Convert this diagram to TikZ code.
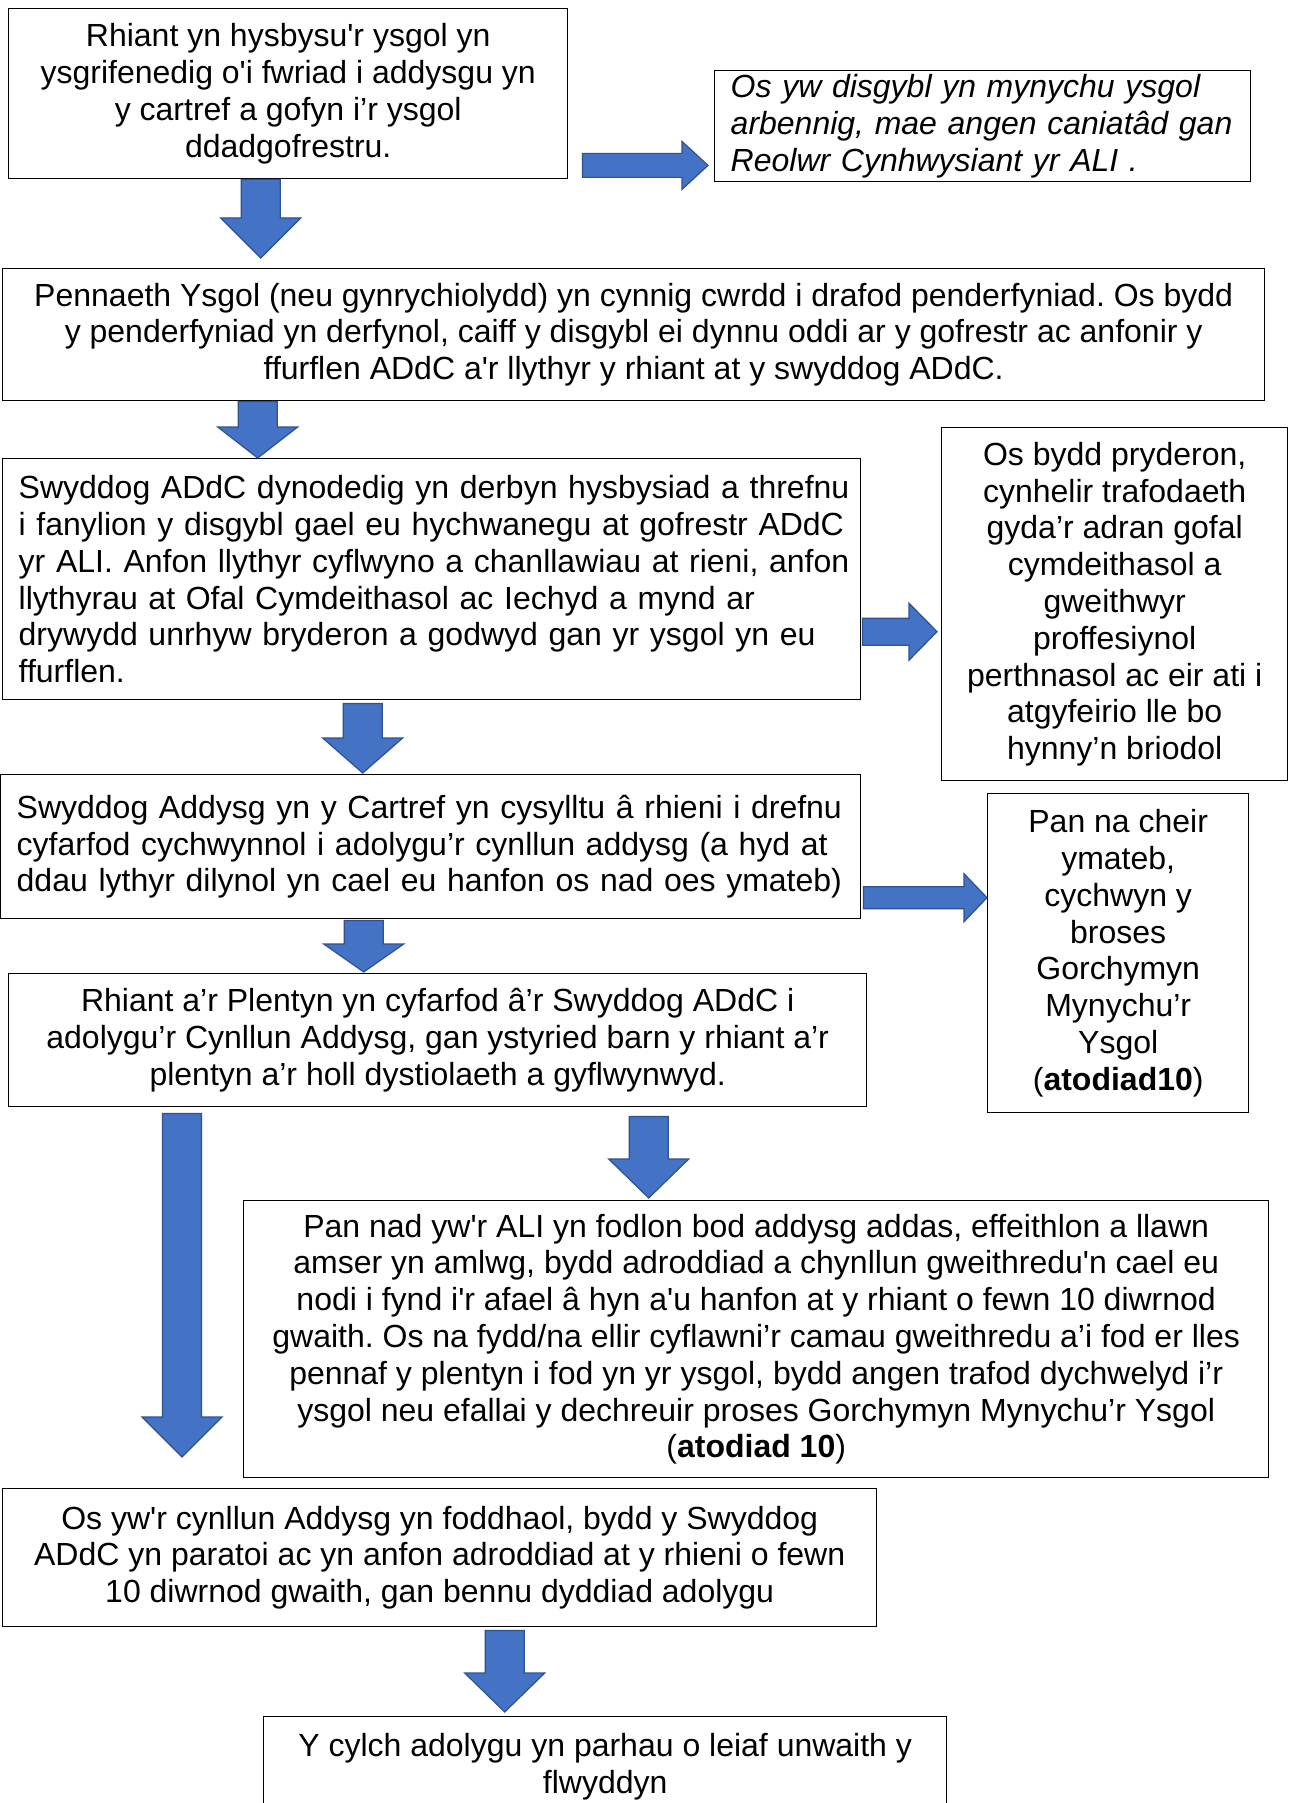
\documentclass[tikz,border=0pt]{standalone}
\usepackage{fontspec}
\setmainfont{Liberation Sans}
\usepackage{tikz}
\usetikzlibrary{calc}
\definecolor{arrfill}{HTML}{4472C4}
\definecolor{arrline}{HTML}{2F528F}
\newcommand{\sq}{\textquotesingle}
\frenchspacing

\begin{document}
\begin{tikzpicture}[x=1pt, y=-1pt,
        box/.style={draw, line width=1.4pt, anchor=north west, inner xsep=16pt, inner ysep=0pt,
            align=center, font=\fontsize{32}{36.8}\selectfont},
        darrow/.style={draw=arrline, fill=arrfill, line width=1.2pt, to path={
            let \p1=(\tikztostart), \p2=(\tikztotarget) in
            (\x1-19.5pt,\y1) -- (\x1+19.5pt,\y1) -- (\x1+19.5pt,\y2+#1pt) -- (\x1+40pt,\y2+#1pt)
            -- (\x1,\y2) -- (\x1-40pt,\y2+#1pt) -- (\x1-19.5pt,\y2+#1pt) -- cycle}},
        rarrow/.style n args={3}{draw=arrline, fill=arrfill, line width=1.2pt, to path={
            let \p1=(\tikztostart), \p2=(\tikztotarget) in
            (\x1,\y1+#1pt) -- (\x2-#3pt,\y1+#1pt) -- (\x2-#3pt,\y1+#2pt) -- (\x2,\y1)
            -- (\x2-#3pt,\y1-#2pt) -- (\x2-#3pt,\y1-#1pt) -- (\x1,\y1-#1pt) -- cycle}}]
        \useasboundingbox[fill=white] (0,0) rectangle (1291,1803);

        % boxes
        \node[box, minimum width=559, minimum height=170] (b1) at (8,8)
            {Rhiant yn hysbysu\sq r ysgol yn\\ysgrifenedig o\sq i fwriad i addysgu yn\\y cartref a gofyn i’r ysgol\\ddadgofrestru.};
        \node[box, align=left, text width=504, minimum height=111,
            font=\fontsize{32}{36.8}\selectfont\itshape] (b2) at (714,70)
            {\mbox{Os yw disgybl yn mynychu ysgol}\\\mbox{arbennig, mae angen caniatâd gan}\\\mbox{Reolwr Cynhwysiant yr ALI .}};
        \node[box, minimum width=1262, minimum height=132] (b3) at (2,268)
            {Pennaeth Ysgol (neu gynrychiolydd) yn cynnig cwrdd i drafod penderfyniad. Os bydd\\y penderfyniad yn derfynol, caiff y disgybl ei dynnu oddi ar y gofrestr ac anfonir y\\ffurflen ADdC a\sq r llythyr y rhiant at y swyddog ADdC.};
        \node[box, align=left, text width=826, minimum height=241] (b4) at (2,458)
            {\mbox{Swyddog ADdC dynodedig yn derbyn hysbysiad a threfnu}\\\mbox{i fanylion y disgybl gael eu hychwanegu at gofrestr ADdC}\\\mbox{yr ALI. Anfon llythyr cyflwyno a chanllawiau at rieni, anfon}\\\mbox{llythyrau at Ofal Cymdeithasol ac Iechyd a mynd ar}\\\mbox{drywydd unrhyw bryderon a godwyd gan yr ysgol yn eu}\\\mbox{ffurflen.}};
        \node[box, minimum width=346, minimum height=353] (b5) at (941,427)
            {Os bydd pryderon,\\cynhelir trafodaeth\\gyda’r adran gofal\\cymdeithasol a\\gweithwyr\\proffesiynol\\perthnasol ac eir ati i\\atgyfeirio lle bo\\hynny’n briodol};
        \node[box, align=left, text width=828, minimum height=144] (b6) at (0,774)
            {\mbox{Swyddog Addysg yn y Cartref yn cysylltu â rhieni i drefnu}\\\mbox{cyfarfod cychwynnol i adolygu’r cynllun addysg (a hyd at}\\\mbox{ddau lythyr dilynol yn cael eu hanfon os nad oes ymateb)}};
        \node[box, minimum width=261, minimum height=319] (b7) at (987,793)
            {Pan na cheir\\ymateb,\\cychwyn y\\broses\\Gorchymyn\\Mynychu’r\\Ysgol\\(\textbf{atodiad10})};
        \node[box, minimum width=858, minimum height=133] (b8) at (8,973)
            {Rhiant a’r Plentyn yn cyfarfod â’r Swyddog ADdC i\\adolygu’r Cynllun Addysg, gan ystyried barn y rhiant a’r\\plentyn a’r holl dystiolaeth a gyflwynwyd.};
        \node[box, minimum width=1025, minimum height=277] (b9) at (243,1200)
            {Pan nad yw\sq r ALI yn fodlon bod addysg addas, effeithlon a llawn\\amser yn amlwg, bydd adroddiad a chynllun gweithredu\sq n cael eu\\nodi i fynd i\sq r afael â hyn a\sq u hanfon at y rhiant o fewn 10 diwrnod\\gwaith. Os na fydd/na ellir cyflawni’r camau gweithredu a’i fod er lles\\pennaf y plentyn i fod yn yr ysgol, bydd angen trafod dychwelyd i’r\\ysgol neu efallai y dechreuir proses Gorchymyn Mynychu’r Ysgol\\(\textbf{atodiad 10})};
        \node[box, minimum width=874, minimum height=138] (b10) at (2,1488)
            {Os yw\sq r cynllun Addysg yn foddhaol, bydd y Swyddog\\ADdC yn paratoi ac yn anfon adroddiad at y rhieni o fewn\\10 diwrnod gwaith, gan bennu dyddiad adolygu};
        \node[box, minimum width=683, minimum height=100] (b11) at (263,1716)
            {Y cylch adolygu yn parhau o leiaf unwaith y\\flwyddyn};

        % block arrows
        \draw[darrow=40] ([xshift=-27.5pt]b1.south) to ([yshift=10pt]b3.north);
        \draw[rarrow={12}{24}{26}] ([shift={(14pt,14pt)}]b1.south east) to ([xshift=-6pt]b2.west);
        \draw[darrow=31] ([xshift=-376pt]b3.south) to (b4.north);
        \draw[rarrow={13.5}{28.5}{28}] ([shift={(1pt,-52.5pt)}]b4.east) to ([xshift=-4pt]b5.west);
        \draw[darrow=35] ([shift={(-69pt,-3pt)}]b4.south) to ([yshift=1pt]b6.north);
        \draw[rarrow={11}{24}{23}] ([shift={(2pt,-51pt)}]b6.east) to (b7.west);
        \draw[darrow=28] ([shift={(-67pt,-1pt)}]b6.south) to ([yshift=1pt]b8.north);
        \draw[darrow=40] ([shift={(174pt,-6pt)}]b8.south west) to ([yshift=31pt]b10.north);
        \draw[darrow=39] ([shift={(211pt,-9pt)}]b8.south) to ([yshift=2pt]b9.north);
        \draw[darrow=39] ([shift={(65pt,-3pt)}]b10.south) to ([yshift=4pt]b11.north);
    \end{tikzpicture}
\end{document}
